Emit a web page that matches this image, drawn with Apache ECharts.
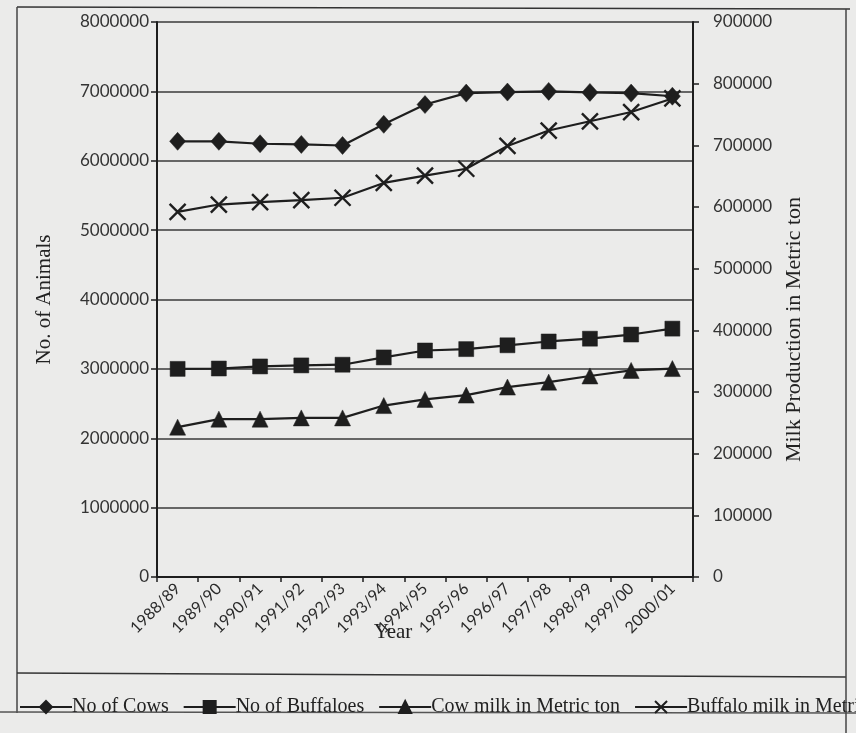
<!DOCTYPE html>
<html>
<head>
<meta charset="utf-8">
<script src="https://cdn.jsdelivr.net/npm/echarts@6/dist/echarts.min.js"></script>
<style>
  html, body { margin: 0; padding: 0; background: #ebebea; }
  #chart { width: 856px; height: 733px; }
</style>
</head>
<body>
<div id="chart"></div>
<script>
// Livestock numbers (left axis) and milk output (right axis), 1988/89 - 2000/01
const years = ['1988/89', '1989/90', '1990/91', '1991/92', '1992/93', '1993/94', '1994/95',
  '1995/96', '1996/97', '1997/98', '1998/99', '1999/00', '2000/01'];
const cows = [6280000, 6280000, 6245000, 6235000, 6220000, 6525000, 6810000,
  6975000, 6990000, 7000000, 6985000, 6975000, 6930000];
const buffaloes = [3000000, 3005000, 3035000, 3050000, 3060000, 3165000, 3265000,
  3285000, 3340000, 3395000, 3435000, 3495000, 3580000];
const cowMilk = [243000, 256000, 256000, 258000, 258000, 278000, 288000,
  295000, 308000, 316000, 326000, 335000, 338000];
const buffaloMilk = [592000, 604000, 608000, 611000, 615000, 639000, 651000,
  662000, 699000, 724000, 739000, 754000, 776000];
const animalTicks = { min: 0, max: 8000000, interval: 1000000 };
const milkTicks = { min: 0, max: 900000, interval: 100000 };

const ink = '#1e1e1e';
const tickFont = 'Lato, "Open Sans", sans-serif';
const serif = '"Liberation Serif", "DejaVu Serif", serif';
const crossPath = 'path://M0,0L10,10M10,0L0,10';
const plain = v => String(v);

function lineSeries(name, data, axis, symbol, size) {
  return {
    name: name,
    type: 'line',
    data: data,
    yAxisIndex: axis,
    symbol: symbol,
    symbolSize: size,
    showAllSymbol: true,
    lineStyle: { color: ink, width: 2.2 },
    itemStyle: symbol === crossPath
      ? { color: ink, borderColor: ink, borderWidth: 2.4 }
      : { color: ink, borderColor: ink, borderWidth: 0.5 },
    emphasis: { disabled: true },
    animation: false
  };
}

const legendText = { fontFamily: serif, fontSize: 20, color: '#222', padding: [0, 0, 0, -5] };

const chart = echarts.init(document.getElementById('chart'), null, { renderer: 'canvas' });
chart.setOption({
  backgroundColor: '#ebebea',
  animation: false,
  grid: { left: 157, right: 163, top: 22, bottom: 156, containLabel: false },
  legend: {
    left: 14,
    top: 692,
    width: 1400,
    itemGap: 14,
    itemWidth: 52,
    itemHeight: 15,
    textStyle: legendText,
    data: [
      { name: 'No of Cows' },
      { name: 'No of Buffaloes', textStyle: Object.assign({}, legendText, { padding: [0, 18, 0, -5] }) },
      { name: 'Cow milk in Metric ton' },
      { name: 'Buffalo milk in Metric ton' }
    ]
  },
  xAxis: {
    type: 'category',
    data: years,
    boundaryGap: true,
    name: 'Year',
    nameLocation: 'middle',
    nameGap: 45,
    nameMoveOverlap: false,
    nameTextStyle: { fontFamily: serif, fontSize: 21, color: '#222', padding: [0, 64, 0, 0] },
    axisLine: { show: true, lineStyle: { color: ink, width: 2 } },
    axisTick: { show: true, interval: 0, length: 5, lineStyle: { color: ink, width: 1.5 } },
    axisLabel: { interval: 0, rotate: 45, margin: 9, fontFamily: tickFont, fontSize: 16, color: '#2a2a2a' },
    splitLine: { show: false }
  },
  yAxis: [
    {
      type: 'value',
      min: animalTicks.min,
      max: animalTicks.max,
      interval: animalTicks.interval,
      name: 'No. of Animals',
      nameLocation: 'middle',
      nameGap: 102,
      nameRotate: 90,
      nameTextStyle: { fontFamily: serif, fontSize: 21, color: '#222' },
      axisLine: { show: true, lineStyle: { color: ink, width: 2 } },
      axisTick: { show: true, length: 6, lineStyle: { color: ink, width: 1.5 } },
      axisLabel: { margin: 8, fontFamily: tickFont, fontSize: 17, color: '#333', formatter: plain },
      splitLine: { show: true, lineStyle: { color: '#3a3a3a', width: 1.5 } }
    },
    {
      type: 'value',
      min: milkTicks.min,
      max: milkTicks.max,
      interval: milkTicks.interval,
      name: 'Milk Production in Metric ton',
      nameLocation: 'middle',
      nameGap: 88,
      nameRotate: 90,
      nameTextStyle: { fontFamily: serif, fontSize: 22, color: '#222', padding: [0, 60, 0, 0] },
      axisLine: { show: true, lineStyle: { color: ink, width: 2 } },
      axisTick: { show: true, length: 6, lineStyle: { color: ink, width: 1.5 } },
      axisLabel: { margin: 20, fontFamily: tickFont, fontSize: 17, color: '#333', formatter: plain },
      splitLine: { show: false }
    }
  ],
  series: [
    lineSeries('No of Cows', cows, 0, 'diamond', [16, 18]),
    lineSeries('No of Buffaloes', buffaloes, 0, 'rect', 15),
    lineSeries('Cow milk in Metric ton', cowMilk, 1, 'triangle', 16),
    lineSeries('Buffalo milk in Metric ton', buffaloMilk, 1, crossPath, 16)
  ],
  graphic: [
    // page frame around the figure
    { type: 'line', shape: { x1: 17, y1: 7, x2: 850, y2: 9 }, style: { stroke: '#333', lineWidth: 1.5 }, silent: true },
    { type: 'line', shape: { x1: 17, y1: 7, x2: 17, y2: 713 }, style: { stroke: '#444', lineWidth: 1.5 }, silent: true },
    { type: 'line', shape: { x1: 846, y1: 9, x2: 846, y2: 733 }, style: { stroke: '#444', lineWidth: 1.5 }, silent: true, z: 100 },
    { type: 'line', shape: { x1: 17, y1: 673, x2: 846, y2: 677 }, style: { stroke: '#333', lineWidth: 1.5 }, silent: true },
    { type: 'line', shape: { x1: 0, y1: 712, x2: 856, y2: 713 }, style: { stroke: '#555', lineWidth: 1.5 }, silent: true }
  ]
});
</script>
</body>
</html>
